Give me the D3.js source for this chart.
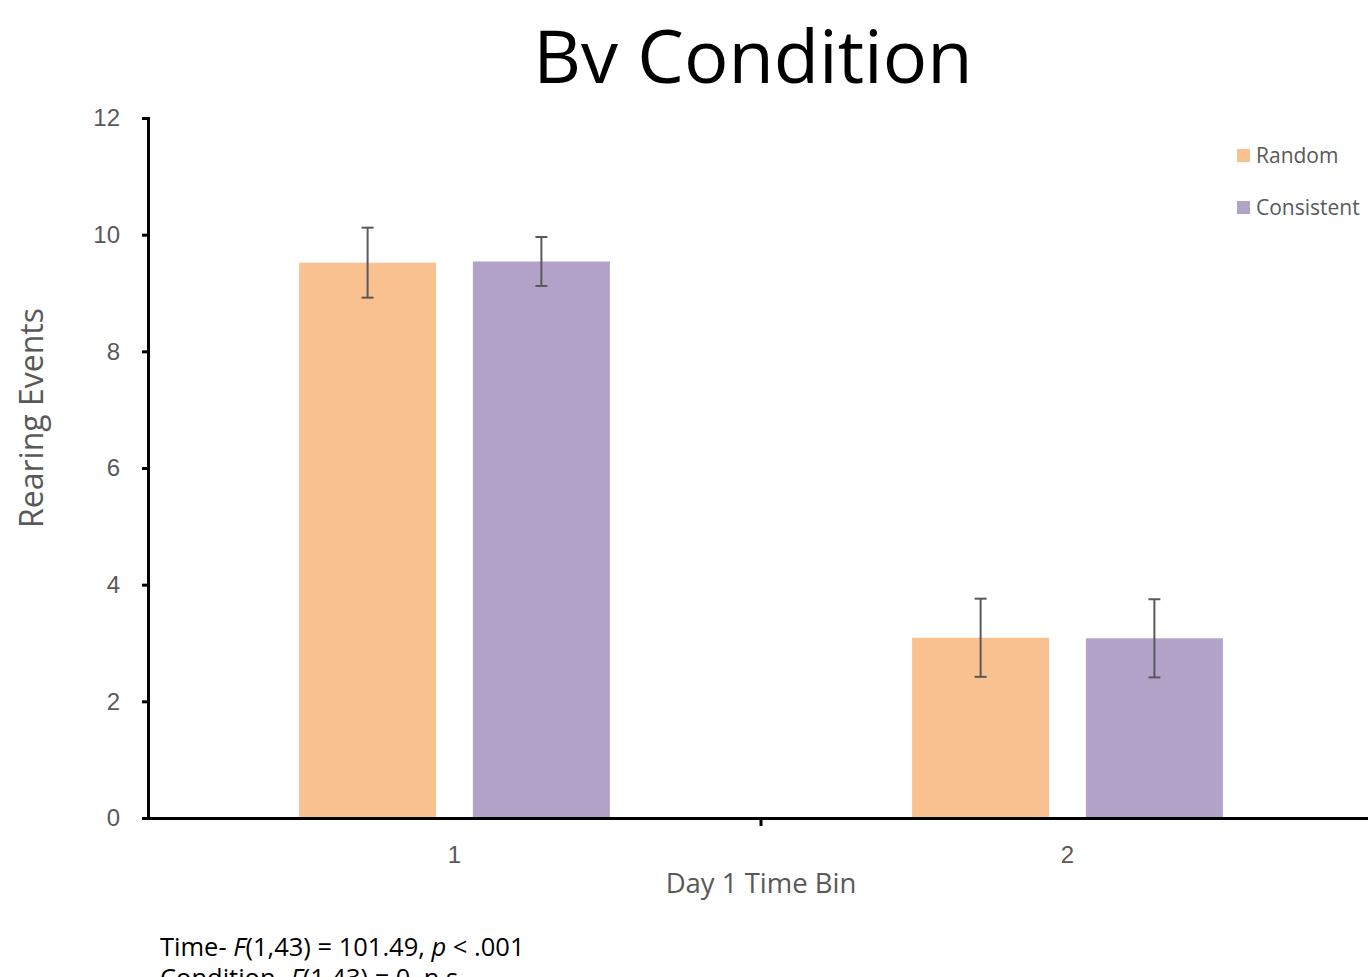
<!DOCTYPE html>
<html>
<head>
<meta charset="utf-8">
<script src="https://cdn.jsdelivr.net/npm/d3@7"></script>
<style>
  body { margin: 0; background: #fff; }
  svg { display: block; font-family: "Open Sans", sans-serif; }
</style>
</head>
<body>
<div id="chart"></div>
<script>
  // Data
  const bins = ['1', '2'];
  const groups = ['Random', 'Consistent'];
  const colors = ['#f9c190', '#b2a2c7'];
  const random = [9.52, 3.09];
  const consistent = [9.54, 3.08];
  const randomErr = [0.6, 0.67];
  const consistentErr = [0.42, 0.67];
  const yTicks = [0, 2, 4, 6, 8, 10, 12];
  const statLines = [
    [['Time- ', false], ['F', true], ['(1,43) = 101.49, ', false], ['p', true], [' < .001', false]],
    [['Condition- ', false], ['F', true], ['(1,43) = 0, n.s.', false]]
  ];

  const width = 1368, height = 977;
  const margin = { left: 148, top: 118, bottom: 159 };
  const plotH = height - margin.top - margin.bottom;

  const svg = d3.select('#chart').append('svg')
    .attr('width', width)
    .attr('height', height);

  const x = d3.scaleBand()
    .domain(bins)
    .range([margin.left, 1374]);

  const y = d3.scaleLinear()
    .domain([0, 12])
    .range([margin.top + plotH, margin.top]);

  // bar layout inside each band
  const barW = x.bandwidth() * 0.2235;
  const gap = x.bandwidth() * 0.06;
  const offsets = [-(gap / 2 + barW), gap / 2];

  const series = groups.map((g, i) => ({
    name: g,
    color: colors[i],
    values: i == 0 ? random : consistent,
    errs: i == 0 ? randomErr : consistentErr,
    offset: offsets[i]
  }));

  series.forEach(s => {
    const g = svg.append('g');
    g.selectAll('rect')
      .data(bins)
      .enter().append('rect')
      .attr('x', (d) => x(d) + x.bandwidth() / 2 + s.offset)
      .attr('y', (d, i) => y(s.values[i]))
      .attr('width', barW)
      .attr('height', (d, i) => y(0) - y(s.values[i]))
      .attr('fill', s.color);

    // error bars
    bins.forEach((d, i) => {
      const cx = x(d) + x.bandwidth() / 2 + s.offset + barW / 2;
      const hi = y(s.values[i] + s.errs[i]);
      const lo = y(s.values[i] - s.errs[i]);
      g.append('line').attr('x1', cx).attr('x2', cx).attr('y1', hi).attr('y2', lo)
        .attr('stroke', '#595959').attr('stroke-width', 2);
      [hi, lo].forEach(v => {
        g.append('line').attr('x1', cx - 6).attr('x2', cx + 6).attr('y1', v).attr('y2', v)
          .attr('stroke', '#595959').attr('stroke-width', 2);
      });
    });
  });

  // y axis
  const yAxis = svg.append('g')
    .attr('transform', `translate(${margin.left},0)`)
    .call(d3.axisLeft(y).tickValues(yTicks).tickSize(6).tickPadding(22).tickFormat(d3.format('d')));
  yAxis.select('.domain').attr('stroke', '#000').attr('stroke-width', 3);
  yAxis.selectAll('.tick line').attr('stroke', '#000').attr('stroke-width', 3);
  yAxis.selectAll('.tick text')
    .attr('fill', '#595959')
    .style('font-size', '24px');

  // x axis
  const xAxis = svg.append('g')
    .attr('transform', `translate(0,${y(0)})`)
    .call(d3.axisBottom(x).tickSize(0).tickPadding(28));
  xAxis.select('.domain').attr('stroke', '#000').attr('stroke-width', 3);
  xAxis.selectAll('.tick text')
    .attr('fill', '#595959')
    .style('font-size', '24px');
  // separator tick between bins
  xAxis.append('line')
    .attr('x1', x('2')).attr('x2', x('2'))
    .attr('y1', 0).attr('y2', 8)
    .attr('stroke', '#000').attr('stroke-width', 3);

  // titles
  svg.append('text')
    .attr('x', 753).attr('y', 83)
    .attr('text-anchor', 'middle')
    .style('font-size', '74px')
    .attr('fill', '#000')
    .text('Bv Condition');

  svg.append('text')
    .attr('transform', 'translate(43,418) rotate(-90)')
    .attr('text-anchor', 'middle')
    .attr('fill', '#595959')
    .style('font-size', '32px')
    .text('Rearing Events');

  svg.append('text')
    .attr('x', x('2')).attr('y', 893)
    .attr('text-anchor', 'middle')
    .attr('fill', '#595959')
    .style('font-size', '27.5px')
    .text('Day 1 Time Bin');

  // legend
  const legend = svg.append('g').attr('transform', 'translate(1237,149)');
  series.forEach((s, i) => {
    const row = legend.append('g').attr('transform', `translate(0,${i * 52})`);
    row.append('rect').attr('width', 13).attr('height', 13).attr('fill', s.color);
    row.append('text').attr('x', 19).attr('y', 14)
      .attr('fill', '#595959')
      .style('font-size', '21px')
      .text(s.name);
  });

  // statistics text (second line runs off the bottom, as in the original)
  statLines.forEach((parts, i) => {
    const t = svg.append('text')
      .attr('x', 160).attr('y', 956 + i * 31)
      .attr('fill', '#000')
      .style('font-size', '25.5px');
    parts.forEach(p => {
      t.append('tspan').style('font-style', p[1] ? 'italic' : 'normal').text(p[0]);
    });
  });
</script>
</body>
</html>
